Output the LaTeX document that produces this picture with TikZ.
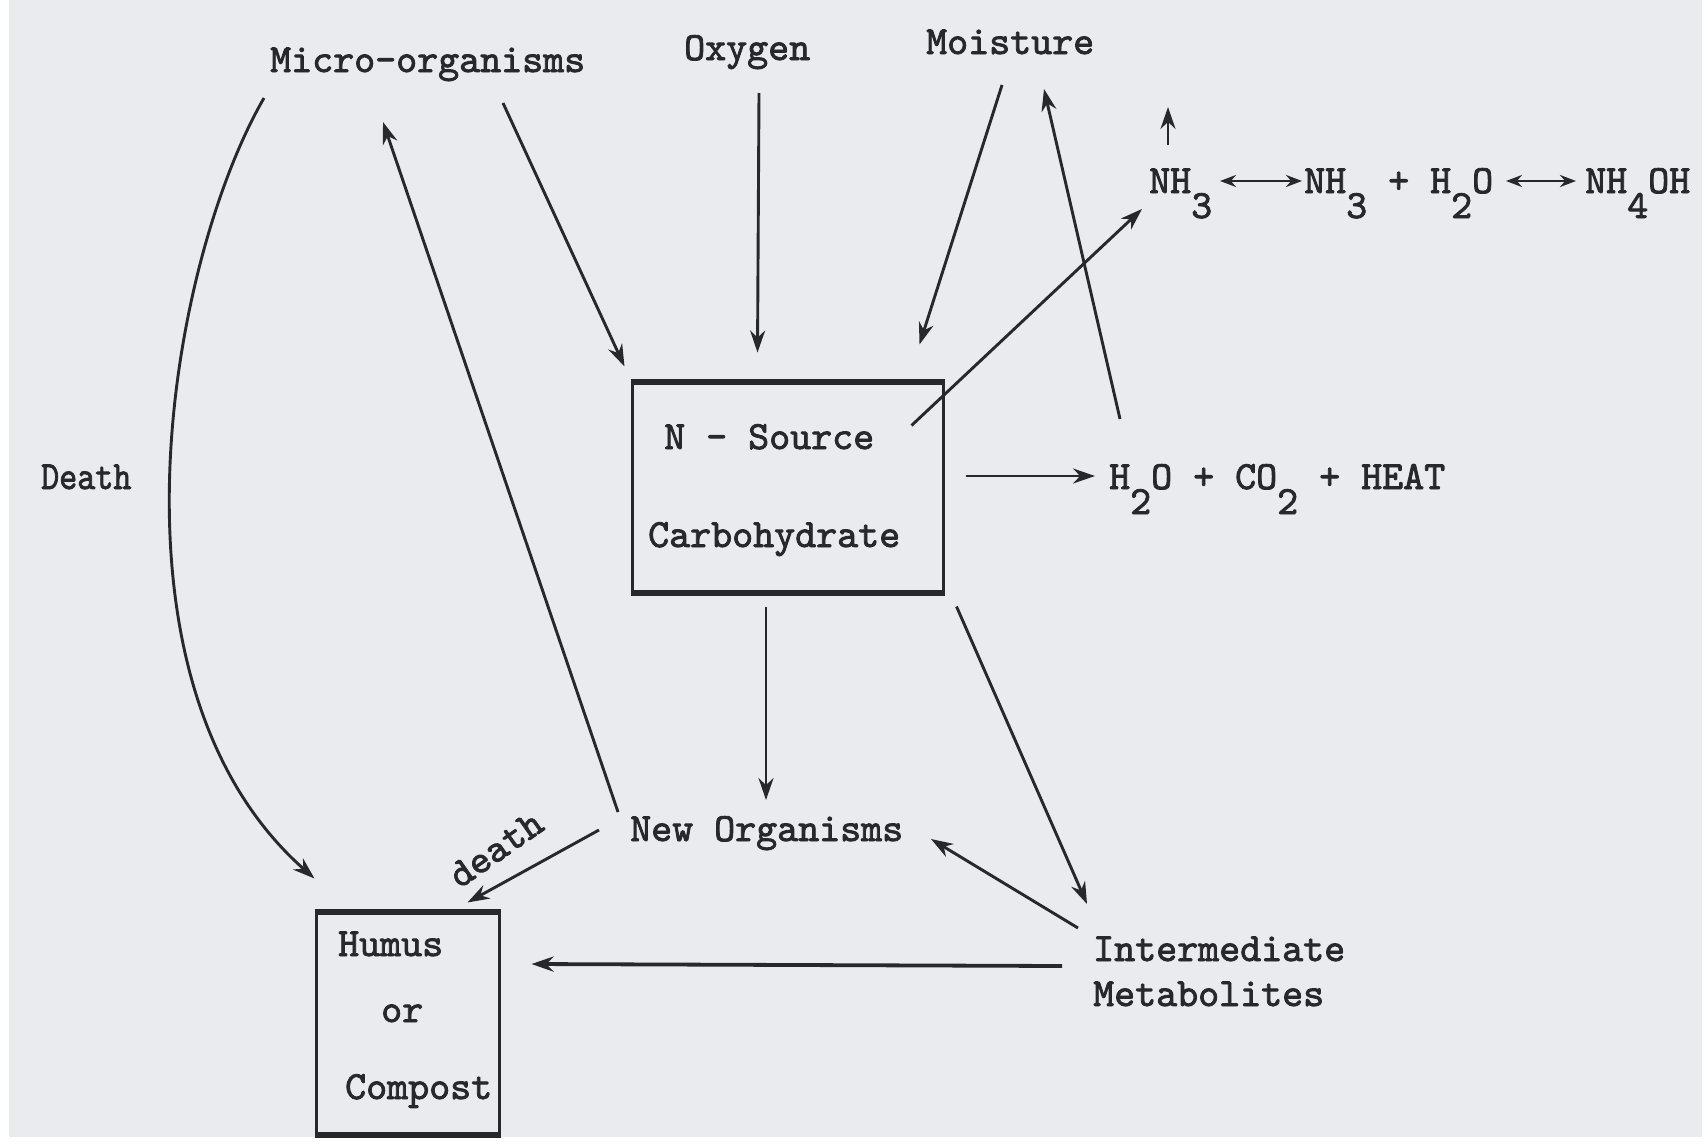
\documentclass[tikz,border=0pt]{standalone}
\usepackage{fontspec}
\newfontfamily\twfont{lmmono10-regular.otf}[FakeBold=2]
\usetikzlibrary{calc,arrows.meta}
\definecolor{bg}{RGB}{234,235,239}
\definecolor{ink}{RGB}{40,40,44}
\newcommand\lowr[1]{\raisebox{-25pt}{#1}}
\tikzset{
  lbl/.style={anchor=base west, inner sep=0pt, text=ink,
    font=\fontsize{40}{47}\twfont},
  arr/.style={draw=ink, line width=2.9pt, -{Stealth[length=22pt,width=15pt]}},
  dbl/.style={draw=ink, line width=2.9pt, {Stealth[length=16pt,width=12pt]}-{Stealth[length=16pt,width=12pt]}},
  boxst/.style={draw=ink, line width=3pt, inner sep=0pt},
  thickedge/.style={draw=ink, line width=6pt}
}
\begin{document}
\begin{tikzpicture}[x=1pt,y=-1pt]
\useasboundingbox (0,0) rectangle (1708,1146);
\fill[white] (0,0) rectangle (1708,1146);
\fill[bg] (9,0) rectangle (1702,1137);

% text nodes
\node[lbl] (micro) at (270,72) {Micro-organisms};
\node[lbl] (oxy) at (684,60) {Oxygen};
\node[lbl] (moist) at (926,54) {Moisture};
\node[lbl] (nh3a) at (1149,193) {NH\lowr{3}};
\node[lbl] (nh3b) at (1304,193) {NH\lowr{3} + H\lowr{2}O};
\node[lbl] (nh4) at (1585,193) {NH\lowr{4}OH};
\node[lbl] (srcA) at (664,449) {N - Source};
\node[lbl] (srcB) at (648,547) {Carbohydrate};
\node[lbl] (heat) at (1109,489) {H\lowr{2}O + CO\lowr{2} + HEAT};
\node[lbl, xscale=0.86] (death) at (41,489) {Death};
\node[lbl] (newo) at (630,841) {New Organisms};
\node[lbl] (inter1) at (1093,961) {Intermediate};
\node[lbl] (inter2) at (1093,1006) {Metabolites};
\node[lbl] (humA) at (338,956) {Humus};
\node[lbl] (humB) at (381,1022) {or};
\node[lbl] (humC) at (345,1099) {Compost};

% boxes
\node[boxst, minimum width=311pt, minimum height=208pt] (src) at (787.5,487) {};
\draw[thickedge] (src.north west) -- (src.north east);
\draw[thickedge] (src.south west) -- (src.south east);
\node[boxst, minimum width=183pt, minimum height=220pt] (hum) at (407.5,1023) {};
\draw[thickedge] (hum.north west) -- (hum.north east);
\draw[thickedge] (hum.south west) -- (hum.south east);

\coordinate (nhup) at (1168,107);

% connectors
\draw[arr] ($(micro.base west)+(233,31)$) -- ($(src.north west)+(-6,-15)$);
\draw[arr] ($(oxy.base west)+(75,33)$) -- ($(src.north west)+(127,-29)$);
\draw[arr] ($(moist.base west)+(76,31)$) -- ($(src.north east)+(-25,-37)$);
\draw[arr] ($(src.north east)+(-33,44)$) -- ($(nh3a.base west)+(-7,16)$);
\draw[arr] ($(heat.base west)+(11,-70)$) -- ($(moist.base west)+(118,35)$);
\draw[arr] ($(nh3a.base west)+(19,-48)$) -- (nhup);
\draw[dbl] ($(nh3a.base west)+(71,-12)$) -- ($(nh3b.base west)+(-2,-12)$);
\draw[dbl] ($(nh3b.base west)+(202,-12)$) -- ($(nh4.base west)+(-9,-12)$);
\draw[arr] ($(src.east)+(21,-11)$) -- ($(heat.base west)+(-14,-13)$);
\draw[arr] ($(newo.base west)+(-12,-29)$) -- ($(micro.base west)+(113,50)$);
\draw[arr] ($(micro.base west)+(-6,26)$) .. controls (170,260) and (93,683) .. ($(hum.north west)+(0,-33)$);
\draw[arr] ($(src.south)+(-21.5,14)$) -- ($(newo.base west)+(136,-41)$);
\draw[arr] ($(newo.base west)+(-31,-11)$) -- ($(hum.north east)+(-33,-9)$);
\node[lbl, anchor=center, rotate=35] (dlab) at (496,849) {death};
\draw[arr] ($(src.south east)+(12,14)$) -- ($(inter1.base west)+(-6,-57)$);
\draw[arr] ($(inter1.base west)+(-15,-33)$) -- ($(newo.base west)+(301,-2)$);
\draw[arr, line width=3.8pt] ($(inter1.base west)+(-31,5)$) -- ($(hum.east)+(31,-59)$);
\end{tikzpicture}
\end{document}
